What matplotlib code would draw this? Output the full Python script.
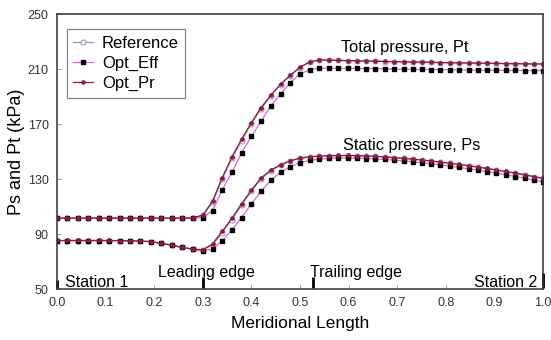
import numpy as np
import matplotlib
matplotlib.use('Agg')
import matplotlib.pyplot as plt

plt.rcParams['font.family'] = ['Liberation Sans', 'DejaVu Sans']

# --- DATA ---
x = [0.000, 0.021, 0.043, 0.064, 0.086, 0.107, 0.129, 0.150, 0.171, 0.193,
     0.214, 0.236, 0.257, 0.279, 0.300,
     0.320, 0.340, 0.360, 0.380, 0.400, 0.420, 0.440, 0.460, 0.480, 0.500,
     0.520, 0.540,
     0.559, 0.578, 0.598, 0.617, 0.636, 0.655, 0.674, 0.693, 0.713, 0.732,
     0.751, 0.770, 0.789, 0.808, 0.828, 0.847, 0.866, 0.885, 0.904, 0.923,
     0.943, 0.962, 0.981, 1.000]

pt_ref = [101.5, 101.5, 101.5, 101.5, 101.5, 101.5, 101.5, 101.5, 101.5, 101.5,
          101.5, 101.5, 101.5, 101.6, 103.5,
          113.0, 130.0, 145.0, 158.0, 170.0, 181.0, 190.5, 198.5, 205.0, 211.0,
          215.0, 216.5,
          216.4, 216.2, 216.0, 215.9, 215.7, 215.6, 215.4, 215.3, 215.2, 215.0,
          214.9, 214.8, 214.6, 214.5, 214.4, 214.3, 214.2, 214.1, 214.0, 213.9,
          213.8, 213.7, 213.6, 213.6]

pt_eff = [101.5, 101.5, 101.5, 101.5, 101.5, 101.5, 101.5, 101.5, 101.5, 101.5,
          101.5, 101.5, 101.5, 101.5, 102.0,
          107.0, 122.0, 135.0, 149.0, 161.0, 172.0, 183.0, 192.0, 200.0, 206.5,
          209.5, 210.5,
          210.6, 210.6, 210.5, 210.4, 210.3, 210.2, 210.1, 210.0, 209.9, 209.8,
          209.7, 209.6, 209.5, 209.4, 209.4, 209.3, 209.2, 209.1, 209.1, 209.0,
          209.0, 208.9, 208.8, 208.8]

pt_pr = [101.6, 101.6, 101.6, 101.6, 101.6, 101.6, 101.6, 101.6, 101.6, 101.6,
         101.6, 101.6, 101.6, 101.7, 103.8,
         113.8, 131.0, 146.0, 159.0, 171.0, 182.0, 191.0, 199.0, 205.5, 211.3,
         215.2, 216.6,
         216.5, 216.3, 216.1, 216.0, 215.8, 215.7, 215.5, 215.4, 215.3, 215.1,
         215.0, 214.9, 214.7, 214.6, 214.5, 214.4, 214.3, 214.2, 214.1, 214.0,
         213.9, 213.8, 213.7, 213.7]

ps_ref = [85.2, 85.2, 85.2, 85.2, 85.2, 85.2, 85.1, 85.0, 84.8, 84.4,
          83.2, 81.8, 80.2, 79.0, 78.3,
          82.0, 91.0, 100.5, 111.0, 121.0, 130.0, 136.0, 140.0, 143.0, 145.0,
          146.0, 146.5,
          146.8, 147.0, 147.0, 146.9, 146.7, 146.4, 146.0, 145.5, 145.0, 144.4,
          143.7, 143.0, 142.2, 141.4, 140.5, 139.6, 138.6, 137.6, 136.5, 135.4,
          134.2, 133.0, 131.7, 130.4]

ps_eff = [85.2, 85.2, 85.2, 85.2, 85.2, 85.2, 85.1, 85.0, 84.8, 84.4,
          83.2, 81.8, 80.2, 78.8, 77.6,
          79.0, 85.0, 93.0, 102.0, 112.0, 121.0, 129.0, 135.0, 139.0, 142.0,
          143.5, 144.5,
          145.0, 145.2, 145.2, 145.1, 144.9, 144.6, 144.2, 143.7, 143.1, 142.5,
          141.8, 141.0, 140.2, 139.3, 138.4, 137.4, 136.4, 135.3, 134.2, 133.0,
          131.8, 130.5, 129.2, 127.9]

ps_pr = [85.3, 85.3, 85.3, 85.3, 85.3, 85.3, 85.2, 85.1, 84.9, 84.5,
         83.3, 81.9, 80.3, 79.1, 78.5,
         82.8, 92.0, 101.5, 112.0, 122.0, 130.8, 136.5, 140.4, 143.3, 145.2,
         146.2, 146.7,
         147.0, 147.1, 147.1, 147.0, 146.8, 146.5, 146.1, 145.6, 145.1, 144.5,
         143.8, 143.1, 142.3, 141.5, 140.6, 139.7, 138.7, 137.7, 136.6, 135.5,
         134.3, 133.1, 131.8, 130.5]

stations = [0.0, 0.30, 0.527, 1.0]
station_top = [56.5, 58.5, 58.5, 62.0]
station_names = ['Station 1', 'Leading edge', 'Trailing edge', 'Station 2']

# --- STYLE ---
C_REF = '#9a98b8'
C_EFF = '#e060d8'
C_PR = '#8c1c3c'

fig = plt.figure(figsize=(5.51, 3.40), dpi=100)
ax = fig.add_axes([0.1034, 0.15, 0.8821, 0.8088])

ax.plot(x, pt_ref, color=C_REF, lw=0.9, marker='o', ms=3.6, mfc='white', mec=C_REF, mew=0.8,
        label='Reference')
ax.plot(x, pt_eff, color=C_EFF, lw=0.9, marker='s', ms=2.4, mfc='black', mec='black',
        label='Opt_Eff')
ax.plot(x, pt_pr, color=C_PR, lw=0.9, marker='o', ms=2.3, mfc=C_PR, mec=C_PR,
        label='Opt_Pr')

ax.plot(x, ps_ref, color=C_REF, lw=0.9, marker='o', ms=3.6, mfc='white', mec=C_REF, mew=0.8)
ax.plot(x, ps_eff, color=C_EFF, lw=0.9, marker='s', ms=2.4, mfc='black', mec='black')
ax.plot(x, ps_pr, color=C_PR, lw=0.9, marker='o', ms=2.3, mfc=C_PR, mec=C_PR)

# station markers
for s, top in zip(stations, station_top):
    ax.plot([s, s], [51.0, top], color='black', lw=2.0, solid_capstyle='butt', clip_on=False)

ax.text(0.016, 55.0, station_names[0], fontsize=11.5, ha='left', va='center')
ax.text(0.307, 62.0, station_names[1], fontsize=11.5, ha='center', va='center')
ax.text(0.52, 62.0, station_names[2], fontsize=11.5, ha='left', va='center')
ax.text(0.988, 55.0, station_names[3], fontsize=11.5, ha='right', va='center')

ax.text(0.716, 226, 'Total pressure, Pt', fontsize=11.8, ha='center', va='center')
ax.text(0.73, 154.5, 'Static pressure, Ps', fontsize=11.8, ha='center', va='center')

ax.set_xlim(0, 1.0)
ax.set_ylim(50, 250)
ax.set_xticks(np.arange(0, 1.01, 0.1))
ax.set_xticklabels(['%.1f' % v for v in np.arange(0, 1.01, 0.1)])
ax.set_yticks([50, 90, 130, 170, 210, 250])
ax.tick_params(direction='in', length=3, width=0.6, color='#888888',
               labelsize=9, labelcolor='#333333', pad=6)

for sp in ax.spines.values():
    sp.set_color('#333333')
    sp.set_linewidth(1.1)

ax.set_xlabel('Meridional Length', fontsize=12.5, labelpad=5)
ax.set_ylabel('Ps and Pt (kPa)', fontsize=13, labelpad=2)

leg = ax.legend(loc='upper left', bbox_to_anchor=(0.003, 0.975), fontsize=12,
                handlelength=1.2, handletextpad=0.5, borderpad=0.4, labelspacing=0.3,
                fancybox=False, framealpha=1, edgecolor='#888888')
leg.get_frame().set_linewidth(0.9)

fig.savefig('out.png', dpi=100)
